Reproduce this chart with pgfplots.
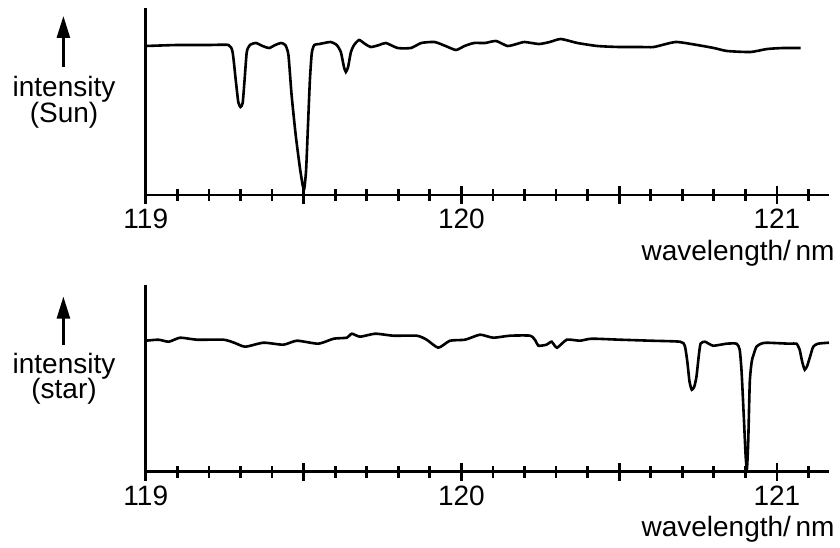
\documentclass[border=0pt]{standalone}
\usepackage{fontspec}
\setmainfont{Liberation Sans}
\usepackage{pgfplots}
\pgfplotsset{compat=1.18}
\usetikzlibrary{arrows.meta}
\newcommand\lbl{\fontsize{14}{13}\selectfont}

% one panel of the spectrum: wavelength axis only, no intensity ticks
\pgfplotsset{spec/.style={
    width=341.6pt, height=93.5pt, scale only axis,
    xmin=119, xmax=121.165, ymin=0, ymax=187,
    axis x line=bottom, axis y line=left,
    axis line style={-, line width=1.4pt},
    every non boxed x axis/.append style={x axis line style={-}},
    every non boxed y axis/.append style={y axis line style={-}},
    ytick=\empty,
    xtick={119,119.5,120,120.5,121},
    xticklabels={119,,120,,121},
    minor xtick={119.1,119.2,119.3,119.4,119.6,119.7,119.8,119.9,
      120.1,120.2,120.3,120.4,120.6,120.7,120.8,120.9,121.1},
    xtick align=center,
    major tick length=9pt, minor tick length=6pt,
    every tick/.style={black, line width=1.4pt},
    xticklabel style={font=\lbl, inner sep=0pt, anchor=north, yshift=-2.5pt},
    /pgf/number format/assume math mode=true,
    xlabel={wavelength/\,nm},
    xlabel style={font=\lbl, inner sep=0pt, at={(axis description cs:1,0)},
      anchor=base east, xshift=3pt, yshift=-32.5pt},
    every axis plot/.append style={line width=1.3pt, no marks,
      smooth, tension=0.35},
  }}

\begin{document}
\begin{tikzpicture}
  \useasboundingbox (0,0) rectangle (420pt,273.5pt);

  % Sun
  \begin{axis}[spec, at={(72.9pt,176pt)}, anchor=south west]
    \addplot[black] table {
      119.000 149
      119.100 150
      119.200 150
      119.262 150
      119.275 143
      119.285 115
      119.293 93
      119.300 88
      119.307 92
      119.313 115
      119.320 143
      119.330 150
      119.349 152
      119.370 149
      119.391 147
      119.410 150
      119.428 152
      119.442 150
      119.452 140
      119.462 100
      119.475 60
      119.488 28
      119.497 10
      119.502 6
      119.508 25
      119.514 70
      119.520 115
      119.526 142
      119.534 150
      119.550 151
      119.585 153
      119.605 150
      119.618 143
      119.628 128
      119.634 123
      119.641 128
      119.650 143
      119.660 150
      119.676 155
      119.695 151
      119.713 148
      119.740 150
      119.761 152
      119.798 147
      119.840 147
      119.873 152
      119.915 153
      119.950 149
      119.983 145
      120.010 149
      120.040 152
      120.075 152
      120.110 154
      120.146 149
      120.175 151
      120.200 153
      120.246 151
      120.280 153
      120.315 156
      120.368 152
      120.431 149
      120.500 148
      120.568 148
      120.610 148
      120.679 153
      120.747 150
      120.800 147
      120.842 144
      120.916 143
      120.969 146
      121.020 147
      121.075 147
    };
  \end{axis}

  % star
  \begin{axis}[spec, at={(72.9pt,37.65pt)}, anchor=south west]
    \addplot[black] table {
      119.000 131
      119.040 132
      119.073 130
      119.109 134
      119.162 132
      119.246 132
      119.280 129
      119.315 125
      119.373 129
      119.436 127
      119.479 131
      119.547 128
      119.595 133
      119.637 134
      119.653 138
      119.679 135
      119.727 138
      119.785 136
      119.859 136
      119.890 132
      119.927 124
      119.964 131
      120.012 132
      120.059 137
      120.101 134
      120.154 136
      120.218 136
      120.235 131
      120.244 126
      120.270 127
      120.286 130
      120.303 124
      120.334 132
      120.376 131
      120.413 133
      120.503 132
      120.600 131
      120.693 130
      120.708 126
      120.716 110
      120.723 90
      120.730 82
      120.738 85
      120.745 95
      120.752 115
      120.758 128
      120.772 130
      120.798 126
      120.840 128
      120.872 128
      120.882 122
      120.888 100
      120.895 55
      120.901 15
      120.905 3
      120.909 30
      120.914 90
      120.920 110
      120.925 116
      120.935 125
      120.950 128
      120.967 129
      121.040 128
      121.062 128
      121.072 122
      121.080 110
      121.088 102
      121.096 106
      121.105 115
      121.115 125
      121.130 128
      121.165 129
    };
  \end{axis}

  % intensity labels with arrows
  \draw[line width=1.3pt, -{Triangle[length=11pt, width=6.5pt]}]
    (31.7pt,240pt) -- (31.7pt,265.5pt);
  \node[font=\lbl, anchor=base, inner sep=0pt] at (32pt,225.2pt) {intensity};
  \node[font=\lbl, anchor=base, inner sep=0pt] at (32pt,212.2pt) {(Sun)};

  \draw[line width=1.3pt, -{Triangle[length=11pt, width=6.5pt]}]
    (31.7pt,101pt) -- (31.7pt,125.2pt);
  \node[font=\lbl, anchor=base, inner sep=0pt] at (32pt,86.8pt) {intensity};
  \node[font=\lbl, anchor=base, inner sep=0pt] at (32pt,74.3pt) {(star)};
\end{tikzpicture}
\end{document}
